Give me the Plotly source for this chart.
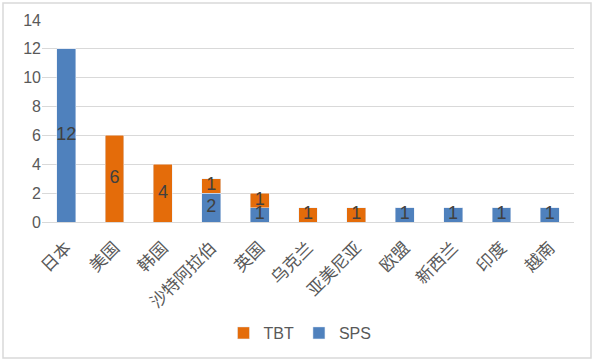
import plotly.graph_objects as go

categories = ["日本", "美国", "韩国", "沙特阿拉伯", "英国", "乌克兰", "亚美尼亚", "欧盟", "新西兰", "印度", "越南"]
sps = [12, 0, 0, 2, 1, 0, 0, 1, 1, 1, 1]
tbt = [0, 6, 4, 1, 1, 1, 1, 0, 0, 0, 0]
y_ticks = [0, 2, 4, 6, 8, 10, 12, 14]

BLUE = "#4F81BD"
ORANGE = "#E46C0A"

fig = go.Figure()
fig.add_trace(go.Bar(name="SPS", x=categories, y=sps, marker_color=BLUE, width=0.39))
fig.add_trace(go.Bar(name="TBT", x=categories, y=tbt, marker_color=ORANGE, width=0.39))

# value labels centered in each segment
lx, ly, lt = [], [], []
for c, s, t in zip(categories, sps, tbt):
    if s:
        lx.append(c); ly.append(s / 2); lt.append(str(s))
    if t:
        lx.append(c); ly.append(s + t / 2); lt.append(str(t))
fig.add_trace(go.Scatter(x=lx, y=ly, text=lt, mode="text", showlegend=False,
                         textfont=dict(size=18, color="#404040", family="Liberation Sans"),
                         hoverinfo="skip"))

W, H = 597, 364
L, R, T, B = 42, 574, 20, 222
pw, ph = R - L, B - T
def px(x): return (x - L) / pw
def py(y): return (B - y) / ph

fig.add_shape(type="rect", xref="paper", yref="paper",
              x0=px(3), x1=px(591), y0=py(358), y1=py(3),
              line=dict(color="#D9D9D9", width=1.5), layer="below")

fig.update_layout(
    width=W, height=H,
    margin=dict(l=L, r=W - R, t=T, b=H - B, autoexpand=False),
    barmode="stack",
    plot_bgcolor="white", paper_bgcolor="white",
    font=dict(family="Noto Sans CJK SC", color="#595959"),
    legend=dict(orientation="h", x=px(300), xanchor="center", y=py(333), yanchor="middle",
                traceorder="reversed", font=dict(size=16, color="#595959", family="Liberation Sans"),
                itemwidth=30, tracegroupgap=0),
    xaxis=dict(tickangle=-45, tickfont=dict(size=17, color="#595959", family="Noto Sans CJK SC"),
               showline=True, linecolor="#D9D9D9", linewidth=1, ticks="", range=[-0.5, 10.5],
               automargin=False, ticklabelstandoff=8),
    yaxis=dict(range=[0, 14], tickvals=y_ticks, gridcolor="#D9D9D9", gridwidth=1,
               tickfont=dict(size=16, color="#595959", family="Liberation Sans"),
               zeroline=False, ticks="", showline=False, automargin=False),
)
fig.write_html("out.html", config={"displayModeBar": False},
               post_script="document.body.style.margin='0';")
